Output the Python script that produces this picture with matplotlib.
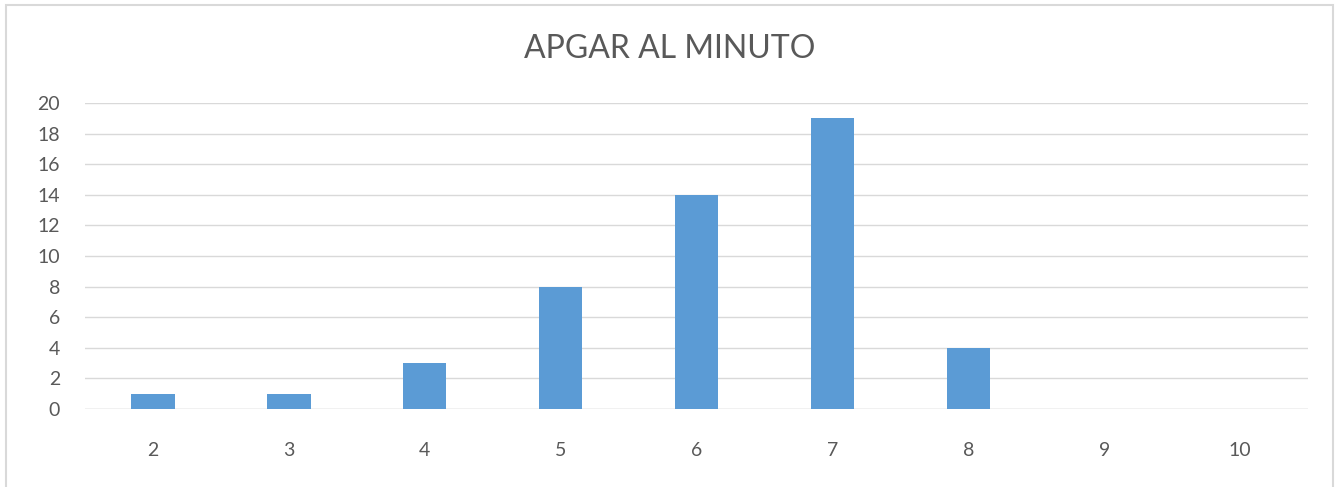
import matplotlib
matplotlib.use('Agg')
import matplotlib.pyplot as plt
from matplotlib.patches import Rectangle

plt.rcParams['font.family'] = ['Lato', 'DejaVu Sans']

# ==================== data ====================
categories = ['2', '3', '4', '5', '6', '7', '8', '9', '10']
values = [1, 1, 3, 8, 14, 19, 4, 0, 0]
yticks = [0, 2, 4, 6, 8, 10, 12, 14, 16, 18, 20]

text_col = '#595959'
grid_col = '#d9d9d9'

fig = plt.figure(figsize=(13.39, 4.87), dpi=100)
ax = fig.add_axes([85/1339, 1 - 409/487, (1308-85)/1339, (409-103)/487])

x = list(range(len(categories)))
ax.bar(x, values, width=0.32, color='#5B9BD5', zorder=3)

ax.set_xlim(-0.5, len(categories) - 0.5)
ax.set_ylim(0, 20)
ax.set_yticks(yticks)
ax.set_xticks(x)
ax.set_xticklabels(categories)
ax.grid(axis='y', color=grid_col, linewidth=1, zorder=0)
ax.tick_params(axis='both', length=0, labelsize=14, colors=text_col)
ax.tick_params(axis='x', pad=24)
ax.tick_params(axis='y', pad=18)
for s in ax.spines.values():
    s.set_visible(False)
ax.axhline(0, color=grid_col, linewidth=1, zorder=2)

fig.text(0.5, 1 - 49/487, 'APGAR AL MINUTO', ha='center', va='center',
         fontsize=23, color=text_col)

# outer frame like the spreadsheet chart area
fig.patches.append(Rectangle((6/1339, -0.05), (1333-6)/1339, 1.05 - 5/487,
                             transform=fig.transFigure, fill=False,
                             edgecolor=grid_col, linewidth=1.5))

fig.savefig('out.png', dpi=100)
